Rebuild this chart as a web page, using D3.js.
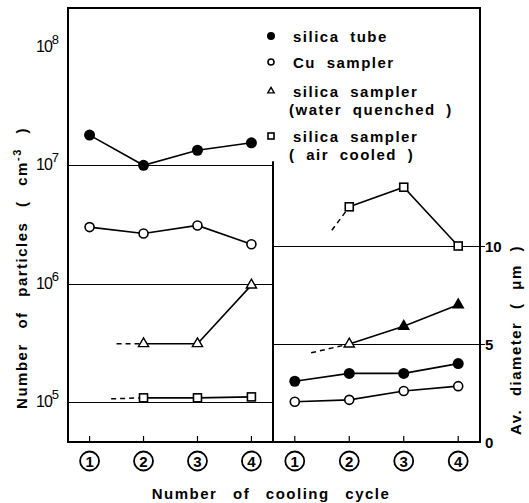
<!DOCTYPE html>
<html><head><meta charset="utf-8">
<script src="https://cdn.jsdelivr.net/npm/d3@7"></script>
<style>
html,body{margin:0;padding:0;background:#fff;}
svg text{font-family:"Liberation Sans",Arial,sans-serif;fill:#000;white-space:pre;}
</style></head>
<body><svg id="c" width="529" height="503"></svg>
<script>
// ---- data ----
const cycles = [1, 2, 3, 4];
const cycleLabels = ["1", "2", "3", "4"];
// number of particles (cm^-3), log scale
const countSilicaTube = [1.8e7, 1.0e7, 1.34e7, 1.55e7];
const countCuSampler = [3.0e6, 2.65e6, 3.1e6, 2.15e6];
const countWaterQuenched = [null, 3.1e5, 3.1e5, 0.97e6];
const countAirCooled = [null, 1.08e5, 1.08e5, 1.1e5];
const countWaterLead = [1.5, 3.1e5];   // [cycle, value] start of dashed lead
const countAirLead = [1.4, 1.06e5];
// average diameter (um)
const diamSilicaTube = [3.1, 3.5, 3.5, 4.0];
const diamCuSampler = [2.05, 2.15, 2.6, 2.85];
const diamWaterQuenched = [null, 5.0, 5.9, 7.0];
const diamAirCooled = [null, 12.0, 13.0, 10.0];
const diamWaterLead = [1.3, 4.55];
const diamAirLead = [1.68, 10.8];
const countTicks = [1e5, 1e6, 1e7, 1e8];
const countTickExp = ["5", "6", "7", "8"];
const diamTicks = [0, 5, 10];
const legendLabels = [["silica tube"], ["Cu sampler"], ["silica sampler", "(water quenched )"], ["silica sampler", "( air cooled )"]];

// ---- layout ----
const svg = d3.select("#c");
const L = 68, M = 273, R = 480, T = 8, B = 442;
const xL = d3.scalePoint().domain(cycles).range([L, M]).padding(0.4);
const xR = d3.scalePoint().domain(cycles).range([M, R]).padding(0.4);
const cont = (xs) => (c) => xs(1) + (c - 1) * xs.step();
const yL = d3.scaleLog().domain([10 ** 4.66, 10 ** 8.33]).range([B, T]);
const yR = d3.scaleLinear().domain([0, 10]).range([B, 246]);

const g = svg.append("g");
// gridlines left
[1e5, 1e6, 1e7].forEach(v => {
  g.append("line").attr("x1", L).attr("x2", M).attr("y1", Math.round(yL(v)) + 0.5).attr("y2", Math.round(yL(v)) + 0.5)
    .attr("stroke", "#000").attr("stroke-width", 1.2);
});
[5, 10].forEach(v => {
  g.append("line").attr("x1", M).attr("x2", R + 5).attr("y1", Math.round(yR(v)) + 0.5).attr("y2", Math.round(yR(v)) + 0.5)
    .attr("stroke", "#000").attr("stroke-width", 1.2);
});
// frame
g.append("rect").attr("x", L).attr("y", T).attr("width", R - L).attr("height", B - T)
  .attr("fill", "none").attr("stroke", "#000").attr("stroke-width", 2);
g.append("line").attr("x1", M).attr("x2", M).attr("y1", yL(1e7) - 4).attr("y2", B)
  .attr("stroke", "#000").attr("stroke-width", 2);

// bottom ticks + circled numbers
[xL, xR].forEach(xs => {
  cycles.forEach((c, i) => {
    g.append("line").attr("x1", xs(c)).attr("x2", xs(c)).attr("y1", B).attr("y2", B - 6)
      .attr("stroke", "#000").attr("stroke-width", 1.2);
    g.append("circle").attr("cx", xs(c)).attr("cy", 461).attr("r", 9.5)
      .attr("fill", "none").attr("stroke", "#000").attr("stroke-width", 1.8);
    g.append("text").attr("x", xs(c)).attr("y", 466.5).attr("text-anchor", "middle")
      .attr("font-size", 15).attr("font-weight", "bold").text(cycleLabels[i]);
  });
});

// left tick labels
countTicks.forEach((v, i) => {
  const t = g.append("text").attr("x", 36).attr("y", yL(v) + 5).attr("font-size", 16)
    .attr("letter-spacing", -1);
  t.append("tspan").text("10");
  t.append("tspan").attr("dy", -8).attr("font-size", 13).text(countTickExp[i]);
});
// right tick labels
diamTicks.forEach(v => {
  g.append("text").attr("x", 485).attr("y", yR(v) + 6).attr("font-size", 15)
    .attr("font-weight", "bold").text(v);
});

// series drawing
const line = d3.line().defined(d => d[1] != null);
function series(xs, ys, vals, lead, marker, fillFn) {
  const pts = cycles.map((c, i) => [xs(c), vals[i] == null ? null : ys(vals[i])]);
  g.append("path").attr("d", line(pts)).attr("fill", "none").attr("stroke", "#000").attr("stroke-width", 1.6);
  if (lead) {
    const first = pts.find(p => p[1] != null);
    g.append("line").attr("x1", cont(xs)(lead[0])).attr("y1", ys(lead[1]))
      .attr("x2", first[0]).attr("y2", first[1])
      .attr("stroke", "#000").attr("stroke-width", 1.5).attr("stroke-dasharray", "5,4");
  }
  pts.forEach((p, i) => {
    if (p[1] == null) return;
    drawMarker(marker, p[0], p[1], fillFn ? fillFn(i) : null);
  });
}
function drawMarker(type, x, y, filled) {
  if (type === "dot") {
    g.append("circle").attr("cx", x).attr("cy", y).attr("r", 5.5).attr("fill", "#000");
  } else if (type === "ring") {
    g.append("circle").attr("cx", x).attr("cy", y).attr("r", 4.5).attr("fill", "#fff")
      .attr("stroke", "#000").attr("stroke-width", 1.6);
  } else if (type === "tri") {
    g.append("path").attr("d", d3.symbol(d3.symbolTriangle, 45)()).attr("transform", `translate(${x},${y})`)
      .attr("fill", filled ? "#000" : "#fff").attr("stroke", "#000").attr("stroke-width", 1.4);
  } else if (type === "sq") {
    g.append("rect").attr("x", x - 4).attr("y", y - 4).attr("width", 8).attr("height", 8)
      .attr("fill", "#fff").attr("stroke", "#000").attr("stroke-width", 1.6);
  }
}
series(xL, yL, countSilicaTube, null, "dot");
series(xL, yL, countCuSampler, null, "ring");
series(xL, yL, countWaterQuenched, countWaterLead, "tri");
series(xL, yL, countAirCooled, countAirLead, "sq");
series(xR, yR, diamSilicaTube, null, "dot");
series(xR, yR, diamCuSampler, null, "ring");
series(xR, yR, diamWaterQuenched, diamWaterLead, "tri", i => i >= 2);
series(xR, yR, diamAirCooled, diamAirLead, "sq");

// legend
const legY = [37, 63, 92, 137];
const legM = ["dot", "ring", "tri", "sq"];
legendLabels.forEach((lines, i) => {
  const y = legY[i];
  const lg = svg.append("g");
  if (legM[i] === "dot") lg.append("circle").attr("cx", 271).attr("cy", y - 1).attr("r", 4).attr("fill", "#000");
  if (legM[i] === "ring") lg.append("circle").attr("cx", 271).attr("cy", y - 1).attr("r", 3).attr("fill", "none").attr("stroke", "#000").attr("stroke-width", 1.6);
  if (legM[i] === "tri") lg.append("path").attr("d", d3.symbol(d3.symbolTriangle, 18)()).attr("transform", `translate(271,${y - 1})`).attr("fill", "none").attr("stroke", "#000").attr("stroke-width", 1.4);
  if (legM[i] === "sq") lg.append("rect").attr("x", 268).attr("y", y - 4).attr("width", 6).attr("height", 6).attr("fill", "none").attr("stroke", "#000").attr("stroke-width", 1.6);
  lines.forEach((s, j) => {
    lg.append("text").attr("x", j === 0 ? 293 : 289).attr("y", y + 5 + j * 18)
      .attr("font-size", 15).attr("font-weight", "bold").attr("letter-spacing", 1.5)
      .attr("word-spacing", 5).text(s);
  });
});

// axis titles
svg.append("text").attr("x", 271).attr("y", 499).attr("text-anchor", "middle")
  .attr("font-size", 15).attr("font-weight", "bold").attr("letter-spacing", 1.5).attr("word-spacing", 10)
  .text("Number of cooling cycle");
const yt = svg.append("text").attr("transform", "translate(27,268) rotate(-90)")
  .attr("text-anchor", "middle").attr("font-size", 15).attr("font-weight", "bold").attr("letter-spacing", 1.5)
  .attr("word-spacing", 9);
yt.append("tspan").text("Number of particles ( cm");
yt.append("tspan").attr("dy", -6).attr("font-size", 11).text("-3");
yt.append("tspan").attr("dy", 6).text(" )");
svg.append("text").attr("transform", "translate(521,340) rotate(-90)")
  .attr("text-anchor", "middle").attr("font-size", 15).attr("font-weight", "bold").attr("letter-spacing", 1.5)
  .attr("word-spacing", 7)
  .text("Av. diameter ( \u03bcm )");
</script></body></html>
